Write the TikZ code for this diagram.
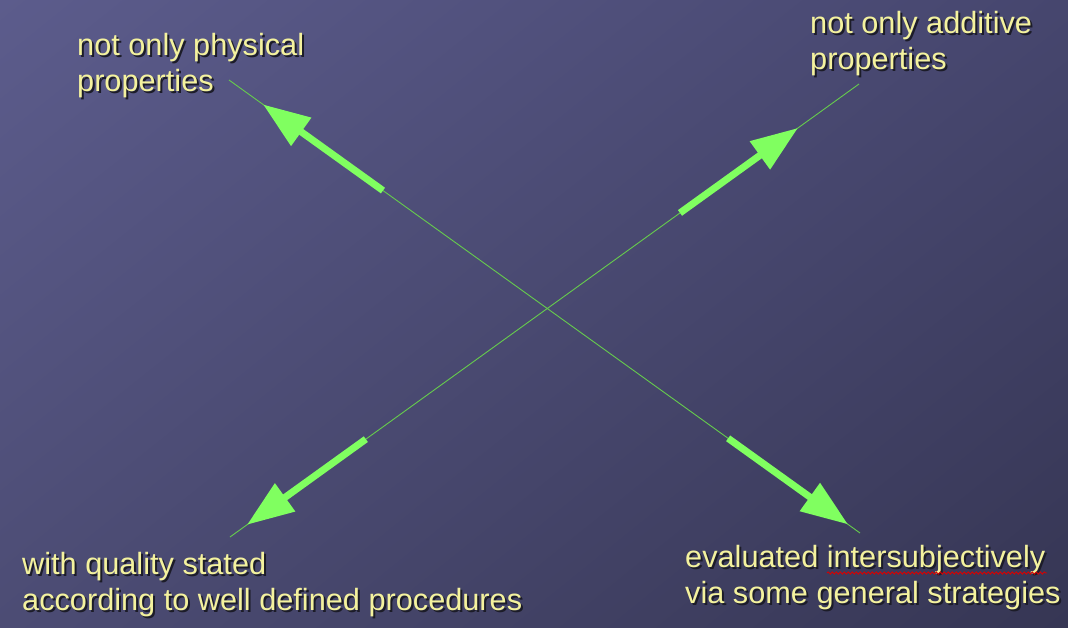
\documentclass[tikz,border=0pt]{standalone}
\usepackage{fontspec}
\setmainfont{Liberation Sans}
\usetikzlibrary{arrows.meta,calc,decorations.pathmorphing,shadings}
\definecolor{bgUL}{RGB}{92,92,140}
\definecolor{bgUR}{RGB}{70,70,110}
\definecolor{bgLL}{RGB}{76,76,116}
\definecolor{bgLR}{RGB}{54,54,84}
\definecolor{lblyellow}{RGB}{244,242,158}
\definecolor{lblshadowc}{RGB}{28,28,40}
\definecolor{arrgreen}{RGB}{128,255,96}
\newcommand\sklabel[4]{%
  \node[lblshadow] (#1s) at (#2+2,-#3-2) {#4};
  \node[lbltext] (#1) at (#2,-#3) {#4};}
\begin{document}
\begin{tikzpicture}[x=1pt,y=1pt,
  thinline/.style={draw=arrgreen!80!black, line width=0.9pt},
  bigarrow/.style={draw=arrgreen, line width=7pt,
     -{Triangle[length=47pt,width=33pt]}, fill=arrgreen},
  lbltext/.style={anchor=base west, inner sep=0pt, text=lblyellow,
     font=\fontsize{30.7}{36}\selectfont},
  lblshadow/.style={lbltext, text=lblshadowc}]
\useasboundingbox (0,0) rectangle (1068,-627);
\shade[upper left=bgUL, upper right=bgUR, lower left=bgLL, lower right=bgLR]
  (0,0) rectangle (1068,-627);
% thin crossing lines
\coordinate (tlend) at (229,-80);
\coordinate (brend) at (860,-533);
\coordinate (trend) at (859,-84);
\coordinate (blend) at (230,-537);
\draw[thinline] (tlend) -- (brend);
\draw[thinline] (trend) -- (blend);
% arrow shafts and tips on the lines
\coordinate (tls) at ($(tlend)!0.244!(brend)$);
\coordinate (tlt) at ($(tlend)!0.054!(brend)$);
\coordinate (brs) at ($(tlend)!0.791!(brend)$);
\coordinate (brt) at ($(tlend)!0.981!(brend)$);
\coordinate (trs) at ($(trend)!0.2846!(blend)$);
\coordinate (trt) at ($(trend)!0.097!(blend)$);
\coordinate (bls) at ($(trend)!0.784!(blend)$);
\coordinate (blt) at ($(trend)!0.973!(blend)$);
\draw[bigarrow] (tls) -- (tlt);
\draw[bigarrow] (trs) -- (trt);
\draw[bigarrow] (bls) -- (blt);
\draw[bigarrow] (brs) -- (brt);
% labels
\sklabel{tla}{77}{55}{not only physical}
\sklabel{tlb}{77}{91}{properties}
\sklabel{tra}{810}{33}{not only additive}
\sklabel{trb}{810}{69}{properties}
\sklabel{bla}{22}{574}{with quality stated}
\sklabel{blb}{22}{610}{according to well defined procedures}
\sklabel{bra}{685}{567}{evaluated intersubjectively}
\sklabel{brb}{685}{603}{via some general strategies}
% spell-check squiggle
\coordinate (sqa) at (827,-573);
\coordinate (sqb) at (1047,-573);
\draw[red!85!black, line width=0.9pt,
  decorate, decoration={snake, amplitude=1.1pt, segment length=4pt}] (sqa) -- (sqb);
\end{tikzpicture}
\end{document}
